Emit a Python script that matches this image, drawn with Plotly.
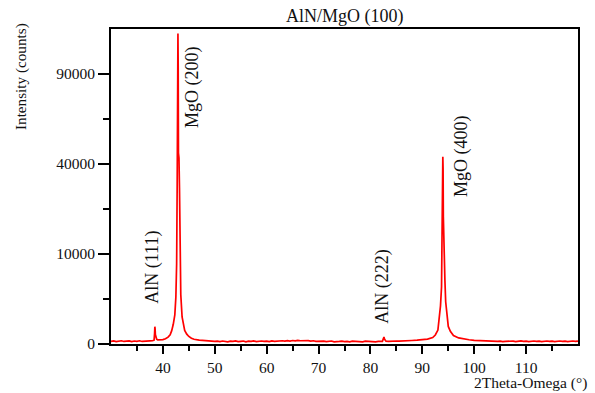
import numpy as np
import plotly.graph_objects as go

# 2Theta (deg) and intensity (counts)
two_theta = [
    30.0, 30.5, 31.0, 31.5, 32.0, 32.5, 33.0, 33.5, 34.0, 34.5, 35.0, 35.5, 36.0, 36.5, 37.0, 37.5,
    38.0, 38.3, 38.4, 38.45, 38.5, 38.55, 38.65, 38.8, 39.0, 39.5,
    40.0, 40.5, 41.0, 41.4, 41.7, 42.0, 42.3, 42.5, 42.65, 42.75, 42.85, 42.9, 42.95, 43.0,
    43.1, 43.2, 43.3, 43.45, 43.7, 44.0, 44.2, 44.6, 45.0, 45.5, 46.0, 47.0, 48.0,
    48.5, 49.0, 49.5, 50.0, 50.5, 51.0, 51.5, 52.0, 52.5, 53.0, 53.5, 54.0, 54.5, 55.0, 55.5,
    56.0, 56.5, 57.0, 57.5, 58.0, 58.5, 59.0, 59.5, 60.0, 60.5, 61.0, 61.5, 62.0, 62.5, 63.0,
    63.5, 64.0, 64.5, 65.0, 65.5, 66.0, 66.5, 67.0, 67.5, 68.0, 68.5, 69.0, 69.5, 70.0, 70.5,
    71.0, 71.5, 72.0, 72.5, 73.0, 73.5, 74.0, 74.5, 75.0, 75.5, 76.0, 76.5, 77.0, 77.5, 78.0,
    78.5, 79.0, 79.5, 80.0, 80.5, 81.0, 81.5, 82.0,
    82.3, 82.5, 82.6, 82.7, 82.85, 83.0, 83.5, 84.0, 84.5, 85.0, 85.5, 86.0, 86.5, 87.0, 88.0,
    89.0, 90.0, 91.0, 92.0, 92.5, 93.0, 93.3, 93.5, 93.7, 93.8, 93.9, 93.95, 94.0, 94.05,
    94.15, 94.25, 94.35, 94.5, 94.75, 95.0, 95.4, 96.0, 97.0, 98.0, 99.0, 100.0, 101.0, 102.0, 103.0,
    103.5, 104.0, 104.5, 105.0, 105.5, 106.0, 106.5, 107.0, 107.5, 108.0, 108.5, 109.0, 109.5,
    110.0, 110.5, 111.0, 111.5, 112.0, 112.5, 113.0, 113.5, 114.0, 114.5, 115.0, 115.5, 116.0,
    116.5, 117.0, 117.5, 118.0, 118.5, 119.0, 119.5, 120.0,
]
intensity = [
    9, 12, 7, 10, 13, 8, 9, 12, 7, 11, 9, 13, 8, 11, 10, 12,
    13, 18, 140, 370, 280, 110, 45, 28, 22, 20,
    24, 34, 58, 105, 220, 480, 1050, 2700, 8000, 30000, 109000, 119000, 95000, 45000,
    42800, 30000, 12000, 3000, 900, 380, 230, 120, 70, 42, 28, 18, 13,
    11, 9, 12, 8, 10, 7, 11, 9, 6, 10, 8, 12, 7, 9, 11,
    6, 10, 8, 12, 7, 9, 11, 8, 10, 7, 12, 9, 11, 8, 13,
    10, 14, 11, 15, 12, 16, 13, 15, 12, 14, 10, 13, 9, 11, 8,
    10, 7, 9, 11, 6, 9, 8, 10, 7, 9, 6, 10, 8, 7, 9,
    6, 10, 8, 7, 9, 6, 8, 7,
    9, 35, 62, 30, 14, 10, 8, 10, 9, 11, 10, 12, 11, 13, 15,
    18, 22, 30, 52, 100, 240, 900, 1800, 4000, 10000, 25000, 43300, 38000, 20000,
    10500, 9800, 5000, 2200, 900, 380, 200, 90, 45, 30, 22, 17, 14, 12, 11,
    9, 11, 8, 10, 7, 9, 11, 8, 10, 7, 9, 12, 8,
    10, 7, 9, 11, 8, 10, 7, 9, 11, 8, 10, 7, 9,
    11, 8, 10, 7, 9, 11, 8, 10,
]

# Square-root intensity axis
y_ticks = [0, 10000, 40000, 90000]
y_minor = [2500, 22500, 62500]
x_ticks = [40, 50, 60, 70, 80, 90, 100, 110]
x_minor = [35, 45, 55, 65, 75, 85, 95, 105, 115]

peak_labels = ["AlN (111)", "MgO (200)", "AlN (222)", "MgO (400)"]
label_x = [37.95, 45.7, 82.17, 97.64]
label_y = [7225, 81860, 4150, 43640]

FONT = "Liberation Serif, Times New Roman, serif"
TXT = "#111"

fig = go.Figure()
fig.add_trace(go.Scatter(
    x=two_theta, y=np.sqrt(intensity), mode="lines",
    line=dict(color="#ff0000", width=1.7), hoverinfo="skip", showlegend=False,
))

for t, lx, ly in zip(peak_labels, label_x, label_y):
    fig.add_annotation(x=lx, y=float(np.sqrt(ly)), text=t, textangle=-90, showarrow=False,
                       font=dict(family=FONT, size=18, color=TXT), xref="x", yref="y")

fig.add_annotation(text="AlN/MgO (100)", x=0.5, y=1 + (29 - 17) / 315, xref="paper", yref="paper",
                   yanchor="middle", showarrow=False, font=dict(family=FONT, size=18, color=TXT))
fig.add_annotation(text="Intensity (counts)", textangle=-90, x=(21 - 111) / 467, y=(344 - 77) / 315,
                   xref="paper", yref="paper", xanchor="center", yanchor="middle", showarrow=False,
                   font=dict(family=FONT, size=15.2, color=TXT))
fig.add_annotation(text="2Theta-Omega (°)", x=(589 - 111) / 467, y=(344 - 383) / 315,
                   xref="paper", yref="paper", xanchor="right", yanchor="middle", showarrow=False,
                   font=dict(family=FONT, size=15.5, color=TXT))

fig.update_layout(
    width=595, height=393,
    margin=dict(l=111, r=17, t=29, b=49),
    paper_bgcolor="white", plot_bgcolor="white",
    font=dict(family=FONT, size=15.5, color=TXT),
    xaxis=dict(
        range=[30, 120], tickmode="array", tickvals=x_ticks, ticks="outside", ticklen=8,
        tickwidth=2, tickcolor="black", showline=True, linecolor="black", linewidth=2,
        mirror=True, showgrid=False, zeroline=False,
        minor=dict(tickmode="array", tickvals=x_minor,
                   ticks="outside", ticklen=5, tickwidth=2, tickcolor="black"),
        tickfont=dict(family=FONT, size=15.5, color=TXT),
    ),
    yaxis=dict(
        range=[0, 350], tickmode="array", tickvals=[float(np.sqrt(v)) for v in y_ticks],
        ticktext=[str(v) for v in y_ticks], ticks="outside", ticklen=11, tickwidth=2,
        tickcolor="black", showline=True, linecolor="black", linewidth=2, mirror=True,
        showgrid=False, zeroline=False,
        minor=dict(tickmode="array", tickvals=[float(np.sqrt(v)) for v in y_minor],
                   ticks="outside", ticklen=6, tickwidth=2, tickcolor="black"),
        tickfont=dict(family=FONT, size=15.5, color=TXT),
    ),
)

fig.write_html("out.html", config={"displayModeBar": False},
               post_script="document.body.style.margin='0';")
